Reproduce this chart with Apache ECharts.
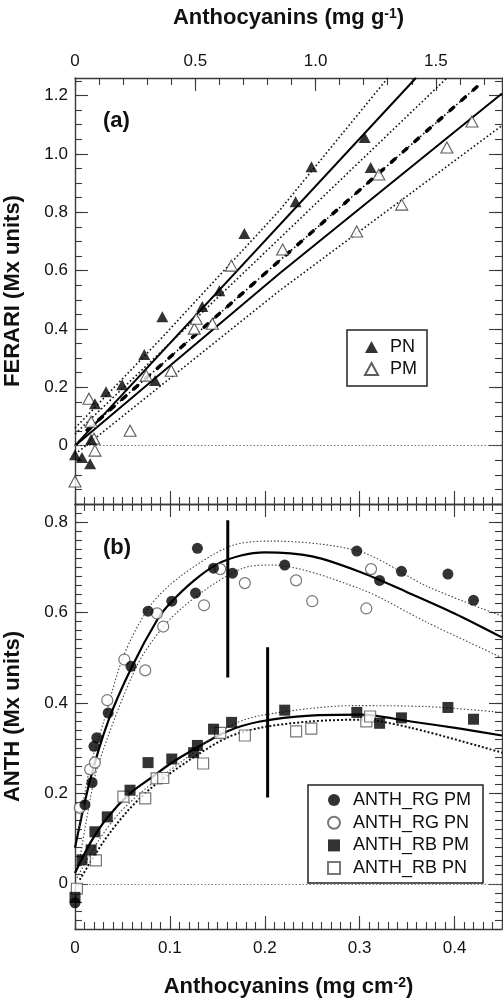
<!DOCTYPE html>
<html><head><meta charset="utf-8">
<script src="https://cdn.jsdelivr.net/npm/echarts/dist/echarts.min.js"></script>
<style>html,body{margin:0;padding:0;background:#fff}#c{width:503px;height:1000px}</style>
</head><body><div id="c"></div>
<script>
// ===== Panel (a): x = Anthocyanins (mg g-1), y = FERARI =====
const aPN_x = [0.000, 0.029, 0.063, 0.067, 0.083, 0.129, 0.196, 0.288, 0.333, 0.363, 0.529, 0.600, 0.704, 0.917, 0.983, 1.204, 1.229];
const aPN_y = [-0.031, -0.041, -0.062, 0.021, 0.144, 0.185, 0.209, 0.312, 0.223, 0.442, 0.477, 0.531, 0.727, 0.836, 0.956, 1.056, 0.953];
const aPM_x = [0.000, 0.058, 0.067, 0.079, 0.083, 0.229, 0.296, 0.400, 0.496, 0.504, 0.571, 0.650, 0.863, 1.171, 1.263, 1.358, 1.546, 1.650];
const aPM_y = [-0.123, 0.161, 0.082, 0.024, -0.017, 0.051, 0.240, 0.257, 0.401, 0.435, 0.418, 0.617, 0.672, 0.734, 0.929, 0.826, 1.022, 1.111];
// fitted lines
const aUpDot_x = [0, 0.35, 0.85, 1.30],   aUpDot_y = [0.06, 0.36, 0.806, 1.26];
const aPNfit_x = [0, 1.417],               aPNfit_y = [0, 1.26];
const aMidDot_x = [0, 0.85, 1.546],        aMidDot_y = [0.04, 0.71, 1.26];
const aDash_x = [0.05, 1.671],             aDash_y = [0.053, 1.23];
const aPMfit_x = [0, 0.85, 1.775],         aPMfit_y = [0, 0.59, 1.207];
const aLowDot_x = [0, 0.85, 1.775],        aLowDot_y = [-0.03, 0.531, 1.097];

// ===== Panel (b): x = Anthocyanins (mg cm-2), y = ANTH =====
const bRGPM_x = [0, 0.0105, 0.018, 0.020, 0.023, 0.035, 0.059, 0.077, 0.102, 0.127, 0.129, 0.146, 0.166, 0.221, 0.297, 0.321, 0.344, 0.393, 0.420];
const bRGPM_y = [-0.042, 0.175, 0.224, 0.304, 0.323, 0.378, 0.481, 0.603, 0.625, 0.643, 0.742, 0.698, 0.687, 0.705, 0.736, 0.671, 0.691, 0.685, 0.627];
const bRGPN_x = [0.005, 0.016, 0.021, 0.034, 0.052, 0.074, 0.0865, 0.093, 0.136, 0.153, 0.179, 0.233, 0.250, 0.307, 0.312];
const bRGPN_y = [0.168, 0.253, 0.268, 0.406, 0.496, 0.472, 0.598, 0.569, 0.616, 0.696, 0.665, 0.671, 0.625, 0.609, 0.696];
const bRBPM_x = [0, 0.0074, 0.017, 0.021, 0.034, 0.058, 0.077, 0.102, 0.125, 0.129, 0.146, 0.165, 0.221, 0.297, 0.321, 0.344, 0.393, 0.420];
const bRBPM_y = [-0.030, 0.053, 0.075, 0.115, 0.148, 0.207, 0.268, 0.276, 0.290, 0.306, 0.342, 0.357, 0.384, 0.379, 0.355, 0.367, 0.390, 0.364];
const bRBPN_x = [0.002, 0.022, 0.051, 0.074, 0.086, 0.093, 0.135, 0.153, 0.179, 0.233, 0.249, 0.307, 0.311];
const bRBPN_y = [-0.011, 0.052, 0.193, 0.189, 0.233, 0.234, 0.266, 0.334, 0.328, 0.337, 0.343, 0.359, 0.370];
// fitted curves
const bRGfit_x = [0, 0.016, 0.035, 0.060, 0.087, 0.100, 0.125, 0.150, 0.175, 0.200, 0.250, 0.300, 0.350, 0.400, 0.450];
const bRGfit_y = [0.08, 0.23, 0.36, 0.48, 0.585, 0.62, 0.67, 0.707, 0.726, 0.733, 0.724, 0.69, 0.645, 0.598, 0.545];
const bRGup_x = [0.004, 0.015, 0.030, 0.051, 0.079, 0.111, 0.164, 0.206, 0.300, 0.371, 0.450];
const bRGup_y = [0.12, 0.25, 0.357, 0.503, 0.614, 0.68, 0.747, 0.758, 0.735, 0.658, 0.592];
const bRGlo_x = [0.004, 0.012, 0.024, 0.065, 0.097, 0.135, 0.177, 0.206, 0.301, 0.371, 0.450];
const bRGlo_y = [0.04, 0.14, 0.26, 0.481, 0.578, 0.647, 0.698, 0.705, 0.652, 0.578, 0.50];
const bRBfit_x = [0, 0.016, 0.034, 0.058, 0.082, 0.100, 0.125, 0.160, 0.195, 0.248, 0.301, 0.354, 0.406, 0.450];
const bRBfit_y = [0.024, 0.09, 0.146, 0.20, 0.237, 0.265, 0.297, 0.337, 0.359, 0.372, 0.374, 0.359, 0.343, 0.328];
const bRBthin_x = [0.002, 0.024, 0.047, 0.076, 0.111, 0.160, 0.195, 0.294, 0.370, 0.450];
const bRBthin_y = [0.013, 0.093, 0.157, 0.213, 0.268, 0.345, 0.372, 0.394, 0.392, 0.379];
const bRBbold_x = [0.005, 0.030, 0.055, 0.082, 0.118, 0.160, 0.195, 0.248, 0.301, 0.354, 0.450];
const bRBbold_y = [0.009, 0.093, 0.16, 0.215, 0.27, 0.323, 0.345, 0.359, 0.363, 0.345, 0.29];
// vertical bars
const bBarRG_x = [0.161, 0.161], bBarRG_y = [0.456, 0.804];
const bBarRB_x = [0.203, 0.203], bBarRB_y = [0.191, 0.523];

// ===== tick labels =====
const aTopLabels = [0, 0.5, 1.0, 1.5];
const aYLabels = [0, 0.2, 0.4, 0.6, 0.8, 1.0, 1.2];
const bXLabels = [0, 0.1, 0.2, 0.3, 0.4];
const bYLabels = [0, 0.2, 0.4, 0.6, 0.8];

const FONT = '"Liberation Sans", Arial, Helvetica, sans-serif';
const fmt = v => Math.abs(v) < 1e-9 ? '0' : (+v).toFixed(1);
function seq(a, b, s) { const n = Math.round((b - a) / s); const o = []; for (let i = 0; i <= n; i++) o.push(+(a + i * s).toFixed(4)); return o; }
const pts = (xs, ys) => xs.map((x, i) => [x, ys[i]]);

const AXC = '#3a3a3a';
const titleStyle = {
  fontSize: 22, fontWeight: 'bold', fontFamily: FONT, color: '#111',
  rich: {
    t: { fontSize: 22, fontWeight: 'bold', fontFamily: FONT, color: '#111' },
    s: { fontSize: 14, fontWeight: 'bold', fontFamily: FONT, color: '#111', verticalAlign: 'top' }
  }
};
function ax(grid, pos, min, max, ticks, len, opt) {
  opt = opt || {};
  const a = {
    type: 'value', gridIndex: grid, position: pos, min: min, max: max,
    axisLine: { show: !!opt.line, onZero: false, lineStyle: { color: AXC, width: 1.4 } },
    axisTick: { show: true, inside: true, length: len, customValues: ticks, lineStyle: { color: AXC, width: 1.1 } },
    axisLabel: { show: false }, splitLine: { show: false }, minorTick: { show: false }
  };
  if (opt.labels) a.axisLabel = { show: true, customValues: opt.labels, formatter: fmt, fontSize: 17, color: '#111', fontFamily: FONT, margin: opt.margin };
  if (opt.name) { a.name = opt.name; a.nameLocation = 'middle'; a.nameGap = opt.nameGap; a.nameRotate = opt.nameRotate || 0; a.nameTextStyle = opt.nameStyle || titleStyle; }
  return a;
}
const aXmax = 1.775, cmMax = 0.45;
const xAxis = [
  ax(0, 'top', 0, aXmax, seq(0, 1.5, 0.5), 13, { line: true, labels: aTopLabels, margin: 8, name: '{t|Anthocyanins (mg g}{s|-1}{t|)}', nameGap: 49 }),
  ax(0, 'top', 0, aXmax, seq(0, 1.7, 0.1), 7),
  ax(0, 'bottom', 0, cmMax, seq(0, 0.4, 0.1), 13, { line: true }),
  ax(0, 'bottom', 0, cmMax, seq(0, 0.45, 0.01), 7),
  ax(1, 'bottom', 0, cmMax, seq(0, 0.4, 0.1), 13, { line: true, labels: bXLabels, margin: 11, name: '{t|Anthocyanins (mg cm}{s|-2}{t|)}', nameGap: 47 }),
  ax(1, 'bottom', 0, cmMax, seq(0, 0.45, 0.01), 7),
  ax(1, 'top', 0, cmMax, seq(0, 0.4, 0.1), 13, { line: true }),
  ax(1, 'top', 0, cmMax, seq(0, 0.45, 0.01), 7)
];
const yName = { fontSize: 22, fontWeight: 'bold', fontFamily: FONT, color: '#111' };
const yAxis = [
  ax(0, 'left', -0.2, 1.26, seq(-0.2, 1.2, 0.2), 13, { line: true, labels: aYLabels, margin: 7, name: 'FERARI (Mx units)', nameGap: 51, nameRotate: 90, nameStyle: yName }),
  ax(0, 'left', -0.2, 1.26, seq(-0.2, 1.25, 0.05), 7),
  ax(0, 'right', -0.2, 1.26, seq(-0.2, 1.2, 0.2), 13, { line: true }),
  ax(0, 'right', -0.2, 1.26, seq(-0.2, 1.25, 0.05), 7),
  ax(1, 'left', -0.1, 0.84, seq(0, 0.8, 0.2), 13, { line: true, labels: bYLabels, margin: 7, name: 'ANTH (Mx units)', nameGap: 51, nameRotate: 90, nameStyle: yName }),
  ax(1, 'left', -0.1, 0.84, seq(-0.1, 0.84, 0.02), 7),
  ax(1, 'right', -0.1, 0.84, seq(0, 0.8, 0.2), 13, { line: true }),
  ax(1, 'right', -0.1, 0.84, seq(-0.1, 0.84, 0.02), 7)
];

function ln(name, xs, ys, ls, xi, yi, extra) {
  return Object.assign({ type: 'line', name: name, xAxisIndex: xi, yAxisIndex: yi, data: pts(xs, ys), showSymbol: false, symbol: 'none', lineStyle: ls, silent: true, z: 2, animation: false }, extra || {});
}
function sc(name, xs, ys, symbol, size, item, xi, yi, z) {
  return { type: 'scatter', name: name, xAxisIndex: xi, yAxisIndex: yi, data: pts(xs, ys), symbol: symbol, symbolSize: size, itemStyle: item, z: z, silent: true, animation: false };
}
const zeroLine = { silent: true, symbol: ['none', 'none'], label: { show: false }, lineStyle: { type: [1.5, 2], color: '#777', width: 1 }, data: [{ yAxis: 0 }], animation: false };
const dotA = { color: '#111', width: 1.6, type: [1.6, 2.4] };
const solidA = { color: '#000', width: 2 };
const thinDotB = { color: '#444', width: 1.1, type: [1.5, 2] };
const boldDotB = { color: '#111', width: 2, type: [2, 2] };
const solidB = { color: '#000', width: 2.2 };
const bar = { color: '#000', width: 3 };
const open = { color: '#fff', borderColor: '#333', borderWidth: 1.1 };
const filled = { color: '#000' };

const series = [
  ln('aUp', aUpDot_x, aUpDot_y, dotA, 0, 0),
  ln('aPNfit', aPNfit_x, aPNfit_y, solidA, 0, 0, { markLine: zeroLine }),
  ln('aMid', aMidDot_x, aMidDot_y, dotA, 0, 0),
  ln('aDashDot', aDash_x, aDash_y, { color: '#000', width: 1.5, type: [1.5, 2.5] }, 0, 0),
  ln('aDash', aDash_x, aDash_y, { color: '#000', width: 3.5, type: [5, 10.6], cap: 'round' }, 0, 0),
  ln('aPMfit', aPMfit_x, aPMfit_y, solidA, 0, 0),
  ln('aLow', aLowDot_x, aLowDot_y, dotA, 0, 0),
  sc('PM', aPM_x, aPM_y, 'triangle', [12, 11], open, 0, 0, 5),
  sc('PN', aPN_x, aPN_y, 'triangle', [12, 11], filled, 0, 0, 6),

  ln('bRGfit', bRGfit_x, bRGfit_y, solidB, 4, 4, { smooth: 0.3, markLine: zeroLine }),
  ln('bRGup', bRGup_x, bRGup_y, thinDotB, 4, 4, { smooth: 0.3 }),
  ln('bRGlo', bRGlo_x, bRGlo_y, thinDotB, 4, 4, { smooth: 0.3 }),
  ln('bRBfit', bRBfit_x, bRBfit_y, solidB, 4, 4, { smooth: 0.3 }),
  ln('bRBthin', bRBthin_x, bRBthin_y, thinDotB, 4, 4, { smooth: 0.3 }),
  ln('bRBbold', bRBbold_x, bRBbold_y, boldDotB, 4, 4, { smooth: 0.3 }),
  ln('barRG', bBarRG_x, bBarRG_y, bar, 4, 4),
  ln('barRB', bBarRB_x, bBarRB_y, bar, 4, 4),
  sc('ANTH_RG PN', bRGPN_x, bRGPN_y, 'circle', 11, { color: '#fff', borderColor: '#555', borderWidth: 1.2 }, 4, 4, 5),
  sc('ANTH_RB PN', bRBPN_x, bRBPN_y, 'rect', 11, { color: '#fff', borderColor: '#555', borderWidth: 1.2 }, 4, 4, 5),
  sc('ANTH_RB PM', bRBPM_x, bRBPM_y, 'rect', 11, filled, 4, 4, 6),
  sc('ANTH_RG PM', bRGPM_x, bRGPM_y, 'circle', 11, filled, 4, 4, 6)
];

const legendText = { fontSize: 18, fontFamily: FONT, color: '#111', padding: [0, 0, 0, 7] };
const option = {
  animation: false,
  backgroundColor: '#fff',
  grid: [
    { left: 75, right: 1, top: 78, height: 426, show: false, containLabel: false, outerBoundsMode: 'none' },
    { left: 75, right: 1, top: 504, height: 425, show: false, containLabel: false, outerBoundsMode: 'none' }
  ],
  xAxis: xAxis,
  yAxis: yAxis,
  legend: [
    { data: ['PN', 'PM'], orient: 'vertical', left: 347, top: 330, padding: [8, 10, 8, 17], itemGap: 4, itemWidth: 13, itemHeight: 12,
      textStyle: legendText, borderColor: '#222', borderWidth: 1.5, backgroundColor: '#fff', selectedMode: false },
    { data: ['ANTH_RG PM', 'ANTH_RG PN', 'ANTH_RB PM', 'ANTH_RB PN'], orient: 'vertical', left: 308, top: 785, padding: [6, 12, 6, 19], itemGap: 4.7, itemWidth: 12, itemHeight: 12,
      textStyle: Object.assign({}, legendText, { padding: [0, 0, 0, 8] }), borderColor: '#222', borderWidth: 1.5, backgroundColor: '#fff', selectedMode: false }
  ],
  graphic: [
    { type: 'text', left: 103, top: 110, style: { text: '(a)', fontSize: 22, fontWeight: 'bold', fontFamily: FONT, fill: '#111' } },
    { type: 'text', left: 103, top: 537, style: { text: '(b)', fontSize: 22, fontWeight: 'bold', fontFamily: FONT, fill: '#111' } }
  ],
  series: series
};
const chart = echarts.init(document.getElementById('c'), null, { renderer: 'canvas' });
chart.setOption(option);
</script>
</body></html>
